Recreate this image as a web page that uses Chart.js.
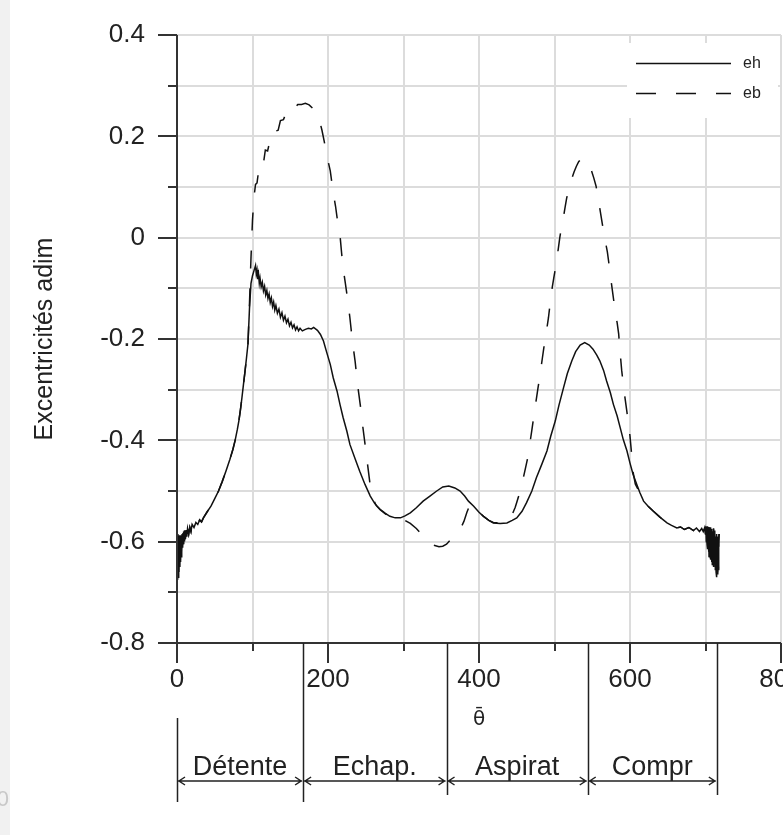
<!DOCTYPE html>
<html>
<head>
<meta charset="utf-8">
<title>Excentricités</title>
<script src="https://cdn.jsdelivr.net/npm/chart.js"></script>
<style>
  html, body { margin: 0; padding: 0; background: #fff; overflow: hidden; }
  canvas { display: block; }
</style>
</head>
<body>
<canvas id="chart" width="783" height="835"></canvas>
<script>
// crank angle samples where eh and eb lie on top of each other (start of the cycle)
const riseTheta = [0, 0.5, 1, 1.5, 2, 2.5, 3, 3.5, 4, 4.5,
                   5, 5.5, 6, 6.5, 7, 7.5, 8, 8.5, 9, 9.5,
                   10, 11, 12, 13, 14, 15.5, 17, 18.5, 20, 22.5,
                   25, 27.5, 30, 32.5, 35, 40, 45, 50, 55, 60,
                   65, 70, 74, 77, 80, 82, 84, 86, 88, 90, 92];
const riseVals = [-0.600, -0.675, -0.585, -0.670, -0.590, -0.660, -0.588, -0.650, -0.592, -0.640,
                  -0.588, -0.630, -0.590, -0.622, -0.585, -0.612, -0.583, -0.605, -0.580, -0.598,
                  -0.578, -0.595, -0.577, -0.590, -0.574, -0.585, -0.572, -0.580, -0.566, -0.572,
                  -0.562, -0.566, -0.557, -0.561, -0.553, -0.541, -0.530, -0.515, -0.500, -0.481,
                  -0.460, -0.438, -0.418, -0.400, -0.378, -0.361, -0.340, -0.316, -0.290, -0.265, -0.238];

// end of the cycle, again common to both curves
const tailTheta = [618, 624, 631, 640, 649, 655, 662, 667, 672, 678,
                   684, 688, 692, 695, 697, 699, 700, 700.5, 701, 701.5,
                   702, 702.5, 703, 703.5, 704, 704.5, 705, 705.5, 706, 706.5,
                   707, 707.5, 708, 708.5, 709, 709.5, 710, 710.5, 711, 711.5,
                   712, 712.5, 713, 713.5, 714, 714.5, 715, 715.5, 716, 716.5,
                   717, 717.5, 718];
const tailVals = [-0.520, -0.530, -0.540, -0.552, -0.563, -0.568, -0.573, -0.571, -0.576, -0.572,
                  -0.578, -0.573, -0.580, -0.574, -0.580, -0.572, -0.585, -0.570, -0.600, -0.572,
                  -0.605, -0.570, -0.615, -0.575, -0.620, -0.571, -0.630, -0.574, -0.625, -0.572,
                  -0.635, -0.578, -0.640, -0.575, -0.645, -0.580, -0.640, -0.574, -0.650, -0.582,
                  -0.645, -0.578, -0.655, -0.590, -0.660, -0.585, -0.670, -0.600, -0.665, -0.590,
                  -0.655, -0.600, -0.585];

// eh (solid)
const ehMidTheta = [94, 96, 98, 100, 102, 104, 105, 106, 107, 108,
                    109, 110, 111.5, 113, 114.5, 116, 117.5, 119, 120.5, 122,
                    123.5, 125, 126.5, 128, 129.5, 131, 133, 135, 137, 139,
                    141, 143, 145, 147, 149, 151, 153, 155, 157, 159,
                    161, 163, 166, 170, 174, 178, 181,
                    186, 190, 194, 198, 203, 207, 212, 216, 220, 225,
                    229, 236, 242, 249, 256, 262, 269, 276, 282, 289,
                    296, 302, 309, 317, 326, 335, 344, 352, 360, 368,
                    375, 381, 386, 393, 400, 406, 413, 419, 428, 437,
                    444, 450, 457, 463, 470, 476, 483, 490, 495, 501,
                    506, 512, 517, 523, 528, 534, 540, 546, 551, 556,
                    560, 565, 569, 574, 578, 583, 587, 591, 596, 600,
                    604, 609, 613];
const ehMidVals = [-0.210, -0.140, -0.090, -0.075, -0.065, -0.055, -0.072, -0.064, -0.082, -0.072,
                   -0.090, -0.080, -0.097, -0.088, -0.105, -0.096, -0.113, -0.104, -0.120, -0.111,
                   -0.128, -0.119, -0.136, -0.127, -0.143, -0.134, -0.149, -0.141, -0.157, -0.148,
                   -0.163, -0.155, -0.168, -0.161, -0.174, -0.167, -0.178, -0.172, -0.182, -0.176,
                   -0.184, -0.179, -0.184, -0.181, -0.179, -0.180, -0.177,
                   -0.183, -0.191, -0.204, -0.225, -0.250, -0.277, -0.303, -0.330, -0.355, -0.382,
                   -0.408, -0.437, -0.461, -0.487, -0.510, -0.525, -0.536, -0.544, -0.550, -0.553,
                   -0.553, -0.549, -0.543, -0.533, -0.520, -0.510, -0.500, -0.492, -0.490, -0.494,
                   -0.500, -0.510, -0.520, -0.530, -0.542, -0.550, -0.558, -0.563, -0.564, -0.563,
                   -0.558, -0.553, -0.540, -0.523, -0.500, -0.474, -0.448, -0.421, -0.392, -0.362,
                   -0.330, -0.296, -0.268, -0.243, -0.225, -0.212, -0.207, -0.212, -0.220, -0.232,
                   -0.243, -0.262, -0.283, -0.306, -0.329, -0.352, -0.375, -0.398, -0.421, -0.445,
                   -0.467, -0.487, -0.503];

// eb (dashed)
const ebMidTheta = [94, 96, 98, 100, 102, 104, 106, 108, 110, 112,
                    115, 117, 120, 123, 126, 130, 134, 137, 141, 145,
                    148, 152, 156, 160, 165, 170, 175, 180, 185, 189,
                    192, 195, 198, 201, 203, 205, 207, 210, 212, 214,
                    216, 218, 220, 223, 226, 229, 232, 236, 239, 243,
                    246, 249, 252, 256, 260, 264, 269, 276, 282, 289,
                    296, 302, 309, 317, 325, 333, 340, 347, 352, 357,
                    365, 375, 380, 384, 388, 393, 400, 406, 413, 419,
                    428, 437, 443, 448, 452, 456, 459, 462, 464, 466,
                    468, 470, 472, 474, 476, 478, 480, 482, 484, 486,
                    488, 490, 492, 495, 497, 499, 501, 503, 505, 507,
                    509, 512, 514, 516, 519, 523, 526, 529, 532, 535,
                    538, 541, 543, 546, 549, 552, 555, 558, 560, 563,
                    566, 568, 570, 572, 574, 577, 579, 581, 583, 585,
                    587, 589, 591, 593, 596, 598, 600, 602, 604, 607,
                    610, 613];
const ebMidVals = [-0.210, -0.130, -0.040, 0.035, 0.080, 0.105, 0.108, 0.131, 0.128, 0.149,
                   0.152, 0.173, 0.171, 0.191, 0.189, 0.210, 0.212, 0.231, 0.233, 0.248,
                   0.246, 0.257, 0.256, 0.263, 0.263, 0.265, 0.262, 0.255, 0.244, 0.230,
                   0.212, 0.190, 0.166, 0.145, 0.132, 0.110, 0.088, 0.062, 0.040, 0.020,
                   0.003, -0.030, -0.060, -0.090, -0.122, -0.158, -0.200, -0.245, -0.288, -0.333,
                   -0.372, -0.407, -0.443, -0.490, -0.516, -0.529, -0.537, -0.545, -0.551, -0.555,
                   -0.556, -0.558, -0.564, -0.574, -0.587, -0.599, -0.607, -0.610, -0.609, -0.605,
                   -0.592, -0.576, -0.560, -0.542, -0.527, -0.531, -0.542, -0.550, -0.558, -0.562,
                   -0.563, -0.560, -0.550, -0.532, -0.513, -0.490, -0.472, -0.452, -0.438, -0.418,
                   -0.400, -0.380, -0.359, -0.338, -0.318, -0.298, -0.279, -0.258, -0.237, -0.216,
                   -0.195, -0.178, -0.158, -0.120, -0.098, -0.080, -0.062, -0.043, -0.022, 0.000,
                   0.018, 0.042, 0.060, 0.077, 0.098, 0.117, 0.130, 0.141, 0.150, 0.155,
                   0.157, 0.154, 0.150, 0.143, 0.132, 0.118, 0.102, 0.078, 0.058, 0.030,
                   0.004, -0.012, -0.028, -0.050, -0.075, -0.108, -0.130, -0.152, -0.168, -0.190,
                   -0.228, -0.262, -0.288, -0.312, -0.345, -0.367, -0.392, -0.425, -0.462, -0.486,
                   -0.495, -0.505];

const xLabelValues = [0, 200, 400, 600, 800];
const yLabelValues = [-0.8, -0.6, -0.4, -0.2, 0, 0.2, 0.4];
const phaseNames = ['Détente', 'Echap.', 'Aspirat', 'Compr'];
const phaseBounds = [0, 167, 357, 544, 715];

const FONT = '"Liberation Sans", Arial, sans-serif';
const INK = '#222';

function toPoints(thetas, vals) {
    return thetas.map((t, i) => ({ x: t, y: vals[i] }));
}

const ehData = toPoints(riseTheta.concat(ehMidTheta, tailTheta), riseVals.concat(ehMidVals, tailVals));
const ebData = toPoints(riseTheta.concat(ebMidTheta, tailTheta), riseVals.concat(ebMidVals, tailVals));

function isYLabel(v) {
    return yLabelValues.some(l => Math.abs(l - v) < 1e-6);
}

const decor = {
    id: 'decor',
    beforeDraw(chart) {
        const ctx = chart.ctx;
        ctx.save();
        ctx.fillStyle = '#f1f1f1';
        ctx.fillRect(0, 0, 10, chart.height);
        ctx.fillStyle = '#c8c8c8';
        ctx.font = '22px ' + FONT;
        ctx.textAlign = 'right';
        ctx.textBaseline = 'middle';
        ctx.fillText('0', 9, 800);
        ctx.restore();
    },
    afterDraw(chart) {
        const ctx = chart.ctx;
        const xs = chart.scales.x, ys = chart.scales.y;
        const left = xs.getPixelForValue(0);
        const right = xs.getPixelForValue(800);
        const top = ys.getPixelForValue(0.4);
        const bottom = ys.getPixelForValue(-0.8);

        ctx.save();
        // axes and tick marks
        ctx.strokeStyle = '#333';
        ctx.lineWidth = 2;
        ctx.beginPath();
        ctx.moveTo(left, top);
        ctx.lineTo(left, bottom + 20);
        ctx.moveTo(left - 19, bottom);
        ctx.lineTo(right, bottom);
        ys.ticks.forEach(t => {
            const py = Math.round(ys.getPixelForValue(t.value));
            const len = isYLabel(t.value) ? 19 : 9;
            ctx.moveTo(left - len, py);
            ctx.lineTo(left, py);
        });
        xs.ticks.forEach(t => {
            const px = Math.round(xs.getPixelForValue(t.value));
            const len = xLabelValues.includes(t.value) ? 20 : 8;
            ctx.moveTo(px, bottom);
            ctx.lineTo(px, bottom + len);
        });
        ctx.stroke();

        // legend box
        ctx.fillStyle = '#fff';
        ctx.fillRect(627, 43, 151, 75);
        ctx.strokeStyle = '#111';
        ctx.lineWidth = 1.5;
        ctx.beginPath();
        ctx.moveTo(636, 63.5);
        ctx.lineTo(731, 63.5);
        ctx.stroke();
        ctx.setLineDash([20, 20]);
        ctx.beginPath();
        ctx.moveTo(636, 93.5);
        ctx.lineTo(731, 93.5);
        ctx.stroke();
        ctx.setLineDash([]);
        ctx.fillStyle = INK;
        ctx.font = '16px ' + FONT;
        ctx.textAlign = 'left';
        ctx.textBaseline = 'middle';
        ctx.fillText('eh', 743, 64);
        ctx.fillText('eb', 743, 94);

        // engine phases under the axis
        const yArrow = 781;
        ctx.strokeStyle = INK;
        ctx.lineWidth = 1.5;
        ctx.beginPath();
        phaseBounds.forEach((b, i) => {
            const px = Math.round(xs.getPixelForValue(b)) + 0.5;
            ctx.moveTo(px, i === 0 ? 718 : bottom);
            ctx.lineTo(px, i <= 1 ? 802 : 795);
        });
        for (let i = 0; i < phaseNames.length; i++) {
            const a = xs.getPixelForValue(phaseBounds[i]) + 1;
            const b = xs.getPixelForValue(phaseBounds[i + 1]) - 1;
            ctx.moveTo(a, yArrow);
            ctx.lineTo(b, yArrow);
            ctx.moveTo(a + 7, yArrow - 4);
            ctx.lineTo(a + 1, yArrow);
            ctx.lineTo(a + 7, yArrow + 4);
            ctx.moveTo(b - 7, yArrow - 4);
            ctx.lineTo(b - 1, yArrow);
            ctx.lineTo(b - 7, yArrow + 4);
        }
        ctx.stroke();
        ctx.fillStyle = INK;
        ctx.font = '27px ' + FONT;
        ctx.textAlign = 'center';
        ctx.textBaseline = 'alphabetic';
        for (let i = 0; i < phaseNames.length; i++) {
            const mid = (xs.getPixelForValue(phaseBounds[i]) + xs.getPixelForValue(phaseBounds[i + 1])) / 2;
            ctx.fillText(phaseNames[i], mid, 775);
        }
        ctx.restore();
    }
};

const ctx = document.getElementById('chart').getContext('2d');
const chart = new Chart(ctx, {
    type: 'scatter',
    data: {
        datasets: [
            {
                label: 'eh',
                data: ehData,
                showLine: true,
                borderColor: '#111',
                borderWidth: 1.5,
                pointRadius: 0,
                tension: 0
            },
            {
                label: 'eb',
                data: ebData,
                showLine: true,
                borderColor: '#111',
                borderWidth: 1.5,
                borderDash: [18, 20],
                pointRadius: 0,
                tension: 0
            }
        ]
    },
    options: {
        responsive: false,
        animation: false,
        devicePixelRatio: 1,
        events: [],
        layout: { padding: { top: 35, right: 2, bottom: 0, left: 0 } },
        plugins: {
            legend: { display: false },
            tooltip: { enabled: false }
        },
        scales: {
            x: {
                type: 'linear',
                min: 0,
                max: 800,
                border: { display: false },
                grid: { color: '#dcdcdc', lineWidth: 2, drawTicks: false },
                ticks: {
                    stepSize: 100,
                    autoSkip: false,
                    maxRotation: 0,
                    padding: 21,
                    color: INK,
                    font: { family: FONT, size: 26 },
                    callback: v => xLabelValues.includes(v) ? String(v) : ''
                },
                title: {
                    display: true,
                    text: 'θ\u0304',
                    color: INK,
                    font: { family: '"DejaVu Sans", sans-serif', size: 20 },
                    padding: { top: 0, bottom: 103 }
                },
                afterFit(scale) {
                    scale.height = 192;
                    scale.paddingLeft = 0;
                    scale.paddingRight = 0;
                }
            },
            y: {
                min: -0.8,
                max: 0.4,
                border: { display: false },
                grid: { color: '#dcdcdc', lineWidth: 2, drawTicks: false },
                ticks: {
                    stepSize: 0.1,
                    autoSkip: false,
                    padding: 32,
                    color: INK,
                    font: { family: FONT, size: 26 },
                    callback: v => {
                        if (!isYLabel(v)) return '';
                        const r = Math.round(v * 10) / 10;
                        return r === 0 ? '0' : r.toFixed(1);
                    }
                },
                title: {
                    display: true,
                    text: 'Excentricités adim',
                    color: INK,
                    font: { family: FONT, size: 25 },
                    padding: { top: 30, bottom: 0 }
                },
                afterFit(scale) {
                    scale.width = 177;
                    scale.paddingTop = 0;
                    scale.paddingBottom = 0;
                }
            }
        }
    },
    plugins: [decor]
});
</script>
</body>
</html>
